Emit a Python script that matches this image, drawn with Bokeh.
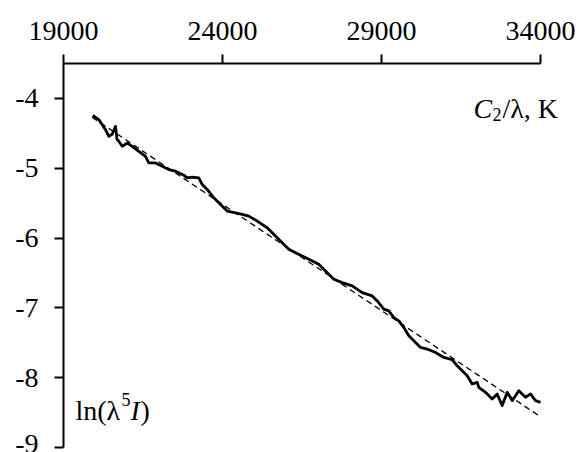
from bokeh.plotting import figure
from bokeh.models import Range1d, FixedTicker, Label
from bokeh.embed import file_html
from bokeh.resources import INLINE

# measured spectrum: C2/lambda (K) vs ln(lambda^5 I)
wave_x = [19921, 20110, 20217, 20321, 20425, 20531, 20635, 20682, 20739, 20846,
          21003, 21160, 21368, 21579, 21682, 21893, 22104, 22311, 22522, 22783,
          22890, 23047, 23255, 23362, 23519, 23726, 23937, 24148, 24409, 24620,
          24827, 25091, 25406, 25720, 25877, 26085, 26296, 26506, 26714, 27028,
          27239, 27500, 27764, 28079, 28393, 28708, 28865, 29072, 29230, 29387,
          29544, 29701, 29859, 30016, 30227, 30437, 30698, 30959, 31223, 31381,
          31538, 31695, 31852, 32010, 32060, 32271, 32481, 32638, 32796, 32953,
          33110, 33318, 33528, 33686, 33843, 34000]
ln_y = [-4.243, -4.304, -4.376, -4.447, -4.543, -4.514, -4.40, -4.586, -4.614, -4.686,
        -4.639, -4.686, -4.757, -4.829, -4.924, -4.924, -4.971, -5.019, -5.043, -5.100,
        -5.139, -5.129, -5.139, -5.233, -5.304, -5.424, -5.519, -5.614, -5.639, -5.661,
        -5.686, -5.757, -5.853, -5.996, -6.067, -6.161, -6.210, -6.257, -6.304, -6.376,
        -6.471, -6.590, -6.639, -6.686, -6.781, -6.829, -6.900, -7.019, -7.043, -7.139,
        -7.186, -7.281, -7.400, -7.471, -7.567, -7.590, -7.639, -7.710, -7.743, -7.829,
        -7.900, -7.971, -8.090, -8.067, -8.139, -8.210, -8.304, -8.233, -8.400, -8.210,
        -8.329, -8.186, -8.281, -8.233, -8.329, -8.353]

# linear fit
fit_x = [19900, 34000]
fit_y = [-4.27, -8.56]

x_ticks = [19000, 24000, 29000, 34000]
y_ticks = [-9, -8, -7, -6, -5, -4]

FONT = "Liberation Serif"
FS = "28px"
SUB = "18px"

# frame spans to the right edge so the axis title is not clipped;
# the axis line itself is bounded to 19000..34000
p = figure(width=578, height=452,
           x_range=Range1d(19000, 35195), y_range=Range1d(-9, -3.5),
           x_axis_location="above", toolbar_location=None, output_backend="svg",
           min_border_left=63, min_border_right=0, min_border_top=63,
           min_border_bottom=5)
p.xgrid.visible = False
p.ygrid.visible = False
p.outline_line_color = None
p.background_fill_color = "white"
p.border_fill_color = "white"

p.xaxis.ticker = FixedTicker(ticks=x_ticks)
p.yaxis.ticker = FixedTicker(ticks=y_ticks)
p.xaxis.bounds = (19000, 34000)
p.yaxis.major_label_overrides = {t: str(t) for t in y_ticks}
p.xaxis.major_label_overrides = {t: str(t) for t in x_ticks}

for ax in (p.xaxis, p.yaxis):
    ax.axis_line_width = 2
    ax.axis_line_color = "black"
    ax.major_tick_line_width = 2
    ax.major_tick_line_color = "black"
    ax.major_tick_in = 0
    ax.major_tick_out = 9
    ax.minor_tick_line_color = None
    ax.major_label_text_font = FONT
    ax.major_label_text_font_size = FS
    ax.major_label_text_color = "black"
p.xaxis.major_label_standoff = 15
p.yaxis.major_label_standoff = 16

p.line(fit_x, fit_y, line_color="black", line_width=1.3, line_dash="6 4")
p.line(wave_x, ln_y, line_color="black", line_width=2.8, line_join="round")

def piece(txt, x, y, xo, yo, size=FS, style="normal"):
    p.add_layout(Label(x=x, y=y, x_offset=xo, y_offset=yo, text=txt,
                       text_font=FONT, text_font_size=size,
                       text_font_style=style, text_color="black",
                       text_baseline="alphabetic", text_align="left"))

# x axis title  C2/lambda, K
ty = -4.14
piece("C", 34000, ty, -67, 0, style="italic")
piece("2", 34000, ty, -48, -6, size=SUB)
piece("/λ, K", 34000, ty, -38, 0)

# y axis title  ln(lambda^5 I)
ly = -8.47
piece("ln(λ", 19000, ly, 12, 0)
piece("5", 19000, ly, 58, 11, size=SUB)
piece("I", 19000, ly, 67, 0, style="italic")
piece(")", 19000, ly, 77, 0)

open("out.html", "w").write(file_html(p, INLINE))
